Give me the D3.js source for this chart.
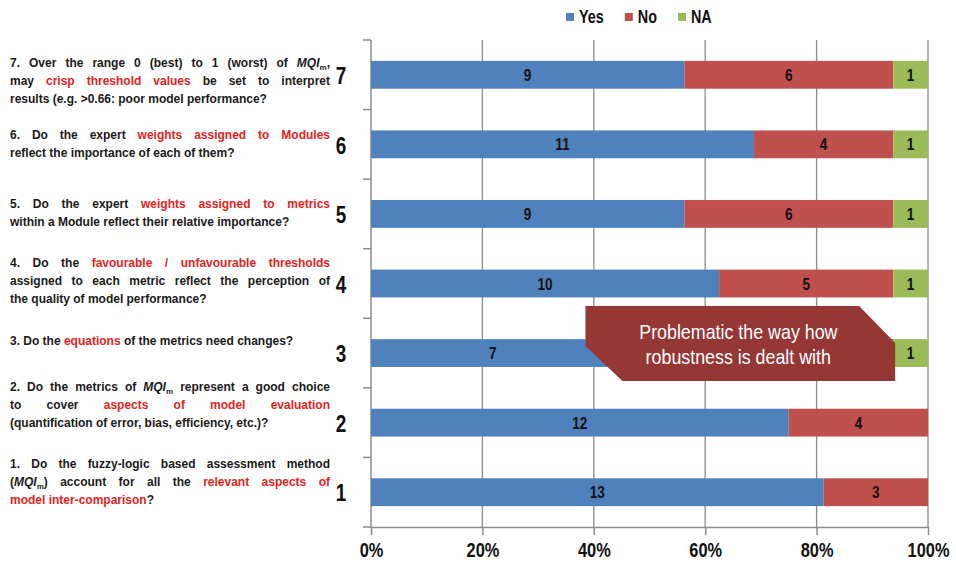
<!DOCTYPE html>
<html>
<head>
<meta charset="utf-8">
<script src="https://cdn.jsdelivr.net/npm/d3@7"></script>
<style>
body { margin: 0; background: #fff; }
svg { display: block; }
.cond { transform-box: fill-box; transform-origin: center; }
.condl { transform-box: fill-box; transform-origin: left center; }
</style>
</head>
<body>
<script>
// Survey answers per question (counts of respondents)
const questions = ["7", "6", "5", "4", "3", "2", "1"];
const yes = [9, 11, 9, 10, 7, 12, 13];
const no = [6, 4, 6, 5, 8, 4, 3];
const na = [1, 1, 1, 1, 1, 0, 0];
const seriesNames = ["Yes", "No", "NA"];
const xTicks = [0, 0.2, 0.4, 0.6, 0.8, 1];

// Question texts, one string per printed line. {...} = red words, MQI_m = italic MQI with subscript m
const questionLines = [
  ["7. Over the range 0 (best) to 1 (worst) of MQI_m,",
   "may {crisp threshold values} be set to interpret",
   "results (e.g. >0.66: poor model performance?"],
  ["6. Do the expert {weights assigned to Modules}",
   "reflect the importance of each of them?"],
  ["5. Do the expert {weights assigned to metrics}",
   "within a Module reflect their relative importance?"],
  ["4. Do the {favourable / unfavourable thresholds}",
   "assigned to each metric reflect the perception of",
   "the quality of model performance?"],
  ["3. Do the {equations} of the metrics need changes?"],
  ["2. Do the metrics of MQI_m represent a good choice",
   "to cover {aspects of model evaluation}",
   "(quantification of error, bias, efficiency, etc.)?"],
  ["1. Do the fuzzy-logic based assessment method",
   "(MQI_m) account for all the {relevant aspects of}",
   "{model inter-comparison}?"]
];
const calloutLines = ["Problematic the way how", "robustness is dealt with"];

const colors = ["#4F81BD", "#C0504D", "#9BBB59"];
const sans = "'Liberation Sans', Arial, sans-serif";

const width = 956;
const height = 570;
const margin = {top:40, right:28, bottom:43, left:371};

const svg = d3.select("body").append("svg")
  .attr("width", width)
  .attr("height", height);

// squeeze a text horizontally (the source uses a narrow font)
function squeeze(sel, k, cls) {
  sel.attr("class", cls || "cond").style("transform", "scaleX(" + k + ")");
}

// build stacked table of shares
const rows = questions.map(function(q, i){
  const tot = yes[i] + no[i] + na[i];
  return {q:q, Yes:yes[i]/tot, No:no[i]/tot, NA:na[i]/tot, counts:[yes[i], no[i], na[i]]};
});
const stacked = d3.stack().keys(seriesNames)(rows);

const x = d3.scaleLinear().domain([0, 1]).range([margin.left, width - margin.right]);
const y = d3.scaleBand().domain(questions)
  .range([margin.top, height - margin.bottom])
  .paddingInner(0.6).paddingOuter(0.3);

// gridlines
svg.append("g")
  .selectAll("line")
  .data(xTicks.slice(1))
  .enter().append("line")
  .attr("x1", d => x(d)).attr("x2", d => x(d))
  .attr("y1", margin.top).attr("y2", height - margin.bottom)
  .attr("stroke", "#8c8c8c").attr("stroke-width", 1.3);

// x axis
const xAxis = svg.append("g")
  .attr("transform", "translate(0," + (height - margin.bottom) + ")")
  .call(d3.axisBottom(x).tickValues(xTicks).tickFormat(d3.format(".0%")).tickSize(8).tickSizeOuter(0));
xAxis.select(".domain").attr("stroke", "#8c8c8c").attr("stroke-width", 1.5);
xAxis.selectAll(".tick line").attr("stroke", "#8c8c8c").attr("stroke-width", 1.5);
xAxis.selectAll(".tick text")
  .attr("y", 15)
  .attr("fill", "#111")
  .style("font-family", sans)
  .style("font-size", "21px")
  .style("font-weight", "bold")
  .call(squeeze, 0.78);

// y axis (band boundaries as ticks)
const yAxis = svg.append("g")
  .attr("transform", "translate(" + margin.left + ",0)");
yAxis.append("line")
  .attr("x1", 0).attr("x2", 0)
  .attr("y1", margin.top).attr("y2", height - margin.bottom)
  .attr("stroke", "#8c8c8c").attr("stroke-width", 1.5);
const step = y.step();
yAxis.selectAll("line.tk")
  .data(d3.range(questions.length + 1))
  .enter().append("line")
  .attr("class", "tk")
  .attr("x1", -8).attr("x2", 0)
  .attr("y1", d => margin.top + d * step).attr("y2", d => margin.top + d * step)
  .attr("stroke", "#8c8c8c").attr("stroke-width", 1.5);

// category numbers
svg.append("g")
  .selectAll("text")
  .data(questions)
  .enter().append("text")
  .attr("x", 341)
  .attr("y", d => y(d) + y.bandwidth() / 2 + 1)
  .attr("dy", "0.36em")
  .attr("text-anchor", "middle")
  .attr("fill", "#111")
  .style("font-family", sans)
  .style("font-size", "23px")
  .style("font-weight", "bold")
  .text(d => d)
  .call(squeeze, 0.82);

// bars
const layers = svg.append("g")
  .selectAll("g")
  .data(stacked)
  .enter().append("g")
  .attr("fill", (d, i) => colors[i]);

layers.selectAll("rect")
  .data(d => d)
  .enter().append("rect")
  .attr("x", d => x(d[0]))
  .attr("y", d => y(d.data.q))
  .attr("width", d => x(d[1]) - x(d[0]))
  .attr("height", y.bandwidth());

// value labels (the "No" of question 3 sits under the callout)
stacked.forEach(function(layer, k){
  svg.append("g")
    .selectAll("text")
    .data(layer.filter(d => d.data.counts[k] > 0 && !(d.data.q === "3" && k === 1)))
    .enter().append("text")
    .attr("x", d => (x(d[0]) + x(d[1])) / 2)
    .attr("y", d => y(d.data.q) + y.bandwidth() / 2)
    .attr("dy", "0.36em")
    .attr("text-anchor", "middle")
    .attr("fill", "#111")
    .style("font-family", sans)
    .style("font-size", "17px")
    .style("font-weight", "bold")
    .text(d => d.data.counts[k])
    .call(squeeze, 0.8);
});

// legend
const legend = svg.append("g").attr("transform", "translate(566,17)");
let lx = 0;
seriesNames.forEach(function(name, i){
  legend.append("rect")
    .attr("x", lx).attr("y", -4)
    .attr("width", 8).attr("height", 8)
    .attr("fill", colors[i]);
  const t = legend.append("text")
    .attr("x", lx + 13).attr("y", 0)
    .attr("dy", "0.36em")
    .attr("fill", "#111")
    .style("font-family", sans)
    .style("font-size", "18px")
    .style("font-weight", "bold")
    .text(name)
    .call(squeeze, 0.8, "condl");
  lx += 13 + t.node().getComputedTextLength() * 0.8 + 21;
});

// question texts, justified like the source
const textLeft = 10, textRight = 330, lineH = 18;
const labelShift = [6, 0, -1, -3, -12, -18, -10];

function wordNode(g, word, state, yy) {
  const t = g.append("text")
    .attr("y", yy)
    .style("font-family", sans)
    .style("font-size", "12px")
    .style("font-weight", "bold");
  const parts = word.split(/(\{|\}|MQI_m)/).filter(p => p !== "");
  let lift = 0;
  parts.forEach(function(p){
    if (p === "{") { state.red = true; return; }
    if (p === "}") { state.red = false; return; }
    const fill = state.red ? "#E3231E" : "#1a1a1a";
    if (p === "MQI_m") {
      t.append("tspan").attr("fill", fill).style("font-style", "italic").attr("dy", -lift).text("MQI");
      t.append("tspan").attr("fill", fill).style("font-size", "8px").attr("dy", 3).text("m");
      lift = 3;
      return;
    }
    t.append("tspan").attr("fill", fill).attr("dy", -lift).text(p);
    lift = 0;
  });
  return t;
}

const labels = svg.append("g");
questionLines.forEach(function(lines, qi){
  const cy = y(questions[qi]) + y.bandwidth() / 2 + labelShift[qi];
  const y0 = cy - (lines.length - 1) * lineH / 2;
  const state = {red:false};
  lines.forEach(function(line, li){
    const yy = y0 + li * lineH + 4;
    const words = line.split(" ");
    const nodes = words.map(w => wordNode(labels, w, state, yy));
    const widths = nodes.map(n => n.node().getComputedTextLength());
    const sum = d3.sum(widths);
    const last = li === lines.length - 1;
    let gap = 3.3;
    if (!last && words.length > 1) gap = (textRight - textLeft - sum) / (words.length - 1);
    let cx = textLeft;
    nodes.forEach(function(n, i){
      n.attr("x", cx);
      n.select("tspan").attr("x", cx);
      cx += widths[i] + gap;
    });
  });
});

// callout over question 3
const cq = y("3") + y.bandwidth() / 2;
const cl = x(0.385), cr = x(0.941);
const ct = cq - 47, cb = cq + 28;
svg.append("path")
  .attr("d", d3.line()([[cl, ct], [cr - 36, ct], [cr, ct + 37], [cr, cb], [cl + 37, cb], [cl, ct + 40]]) + "Z")
  .attr("fill", "#953735");
svg.append("g")
  .selectAll("text")
  .data(calloutLines)
  .enter().append("text")
  .attr("x", (cl + cr) / 2 - 2)
  .attr("y", (d, i) => ct + 25 + i * 25)
  .attr("dy", "0.36em")
  .attr("text-anchor", "middle")
  .attr("fill", "#fff")
  .style("font-family", sans)
  .style("font-size", "21px")
  .text(d => d)
  .call(squeeze, 0.85);
</script>
</body>
</html>
